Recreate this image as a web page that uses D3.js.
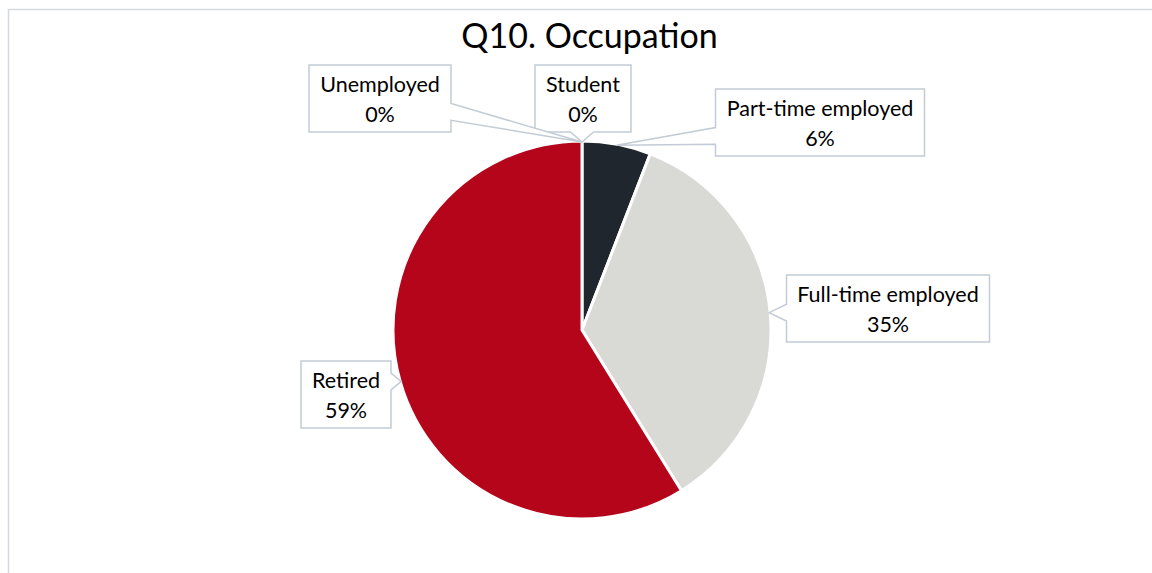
<!DOCTYPE html>
<html>
<head>
<meta charset="utf-8">
<script src="https://cdn.jsdelivr.net/npm/d3@7/dist/d3.min.js"></script>
<style>
  body { margin: 0; background: #fff; }
  svg { display: block; }
  text { font-family: Lato, 'Open Sans', sans-serif; fill: #000; }
</style>
</head>
<body>
<div id="chart"></div>
<script>
// data, clockwise from 12 o'clock
const categories = ['Student', 'Part-time employed', 'Full-time employed', 'Retired', 'Unemployed'];
const counts = [0, 1, 6, 10, 0];
const percentLabels = ['0%', '6%', '35%', '59%', '0%'];
const sliceColors = ['#1f262d', '#1f262d', '#d9d9d5', '#b5051b', '#b5051b'];
const title = 'Q10. Occupation';

// callout box placement (centre x, top y)
const calloutPos = {
  'Student': { cx: 583, top: 65 },
  'Part-time employed': { cx: 820, top: 89 },
  'Full-time employed': { cx: 888, top: 275 },
  'Retired': { cx: 346, top: 361 },
  'Unemployed': { cx: 380, top: 65 },
};

const width = 1152;
const height = 573;
const center = { x: 582, y: 330 };
const radius = 189;
const boxH = 67;
const labelSize = 21.5;

const svg = d3.select('#chart').append('svg')
  .attr('width', width)
  .attr('height', height);

// chart area frame
svg.append('rect')
  .attr('x', 8.5)
  .attr('y', 9.5)
  .attr('width', width + 20)
  .attr('height', height + 20)
  .attr('fill', 'none')
  .attr('stroke', '#d5d9dd')
  .attr('stroke-width', 1.5);

svg.append('text')
  .attr('x', 589.5)
  .attr('y', 48)
  .attr('text-anchor', 'middle')
  .style('font-size', '34px')
  .text(title);

const rows = categories.map((c, i) => ({
  name: c, value: counts[i], label: percentLabels[i], color: sliceColors[i],
}));

const pie = d3.pie()
  .sort(null)
  .value(d => d.value);

const arcs = pie(rows);
const arc = d3.arc().innerRadius(0).outerRadius(radius);

const g = svg.append('g').attr('transform', `translate(${center.x},${center.y})`);

g.selectAll('path.slice')
  .data(arcs.filter(d => d.value > 0))
  .enter()
  .append('path')
  .attr('class', 'slice')
  .attr('d', arc)
  .attr('fill', d => d.data.color)
  .attr('stroke', '#fff')
  .attr('stroke-width', 3)
  .attr('stroke-linejoin', 'round');

// callouts
const calloutLayer = svg.append('g');

arcs.forEach((d) => {
  const pos = calloutPos[d.data.name];
  const mid = (d.startAngle + d.endAngle) / 2;
  const tip = {
    x: center.x + Math.sin(mid) * (radius - 1),
    y: center.y - Math.cos(mid) * (radius - 1),
  };

  const grp = calloutLayer.append('g');
  const path = grp.append('path');
  const t1 = grp.append('text')
    .attr('x', pos.cx)
    .attr('y', pos.top + 27)
    .attr('text-anchor', 'middle')
    .style('font-size', `${labelSize}px`)
    .text(d.data.name);
  grp.append('text')
    .attr('x', pos.cx)
    .attr('y', pos.top + 57)
    .attr('text-anchor', 'middle')
    .style('font-size', `${labelSize}px`)
    .text(d.data.label);

  const w = Math.round(t1.node().getComputedTextLength() + 22);
  const x0 = pos.cx - w / 2;
  const x1 = pos.cx + w / 2;
  const y0 = pos.top;
  const y1 = pos.top + boxH;

  const outX = tip.x < x0 ? x0 - tip.x : (tip.x > x1 ? tip.x - x1 : 0);
  const outY = tip.y < y0 ? y0 - tip.y : (tip.y > y1 ? tip.y - y1 : 0);

  let pts;
  if (outX >= outY) {
    const bc = Math.max(y0 + 0.3 * boxH, Math.min(y1 - 0.3 * boxH, tip.y));
    const b0 = bc - 0.125 * boxH;
    const b1 = bc + 0.125 * boxH;
    if (tip.x > x1) {
      pts = [[x0, y0], [x1, y0], [x1, b0], [tip.x, tip.y], [x1, b1], [x1, y1], [x0, y1]];
    } else {
      pts = [[x0, y0], [x1, y0], [x1, y1], [x0, y1], [x0, b1], [tip.x, tip.y], [x0, b0]];
    }
  } else {
    const bc = Math.max(x0 + 0.3 * w, Math.min(x1 - 0.3 * w, tip.x));
    const b0 = bc - 0.12 * w;
    const b1 = bc + 0.12 * w;
    if (tip.y > y1) {
      pts = [[x0, y0], [x1, y0], [x1, y1], [b1, y1], [tip.x, tip.y], [b0, y1], [x0, y1]];
    } else {
      pts = [[x0, y0], [b0, y0], [tip.x, tip.y], [b1, y0], [x1, y0], [x1, y1], [x0, y1]];
    }
  }

  path.attr('d', `${d3.line()(pts)}Z`)
    .attr('fill', '#fff')
    .attr('stroke', '#c3ccd6')
    .attr('stroke-width', 1.5)
    .attr('stroke-linejoin', 'miter');
});
</script>
</body>
</html>
